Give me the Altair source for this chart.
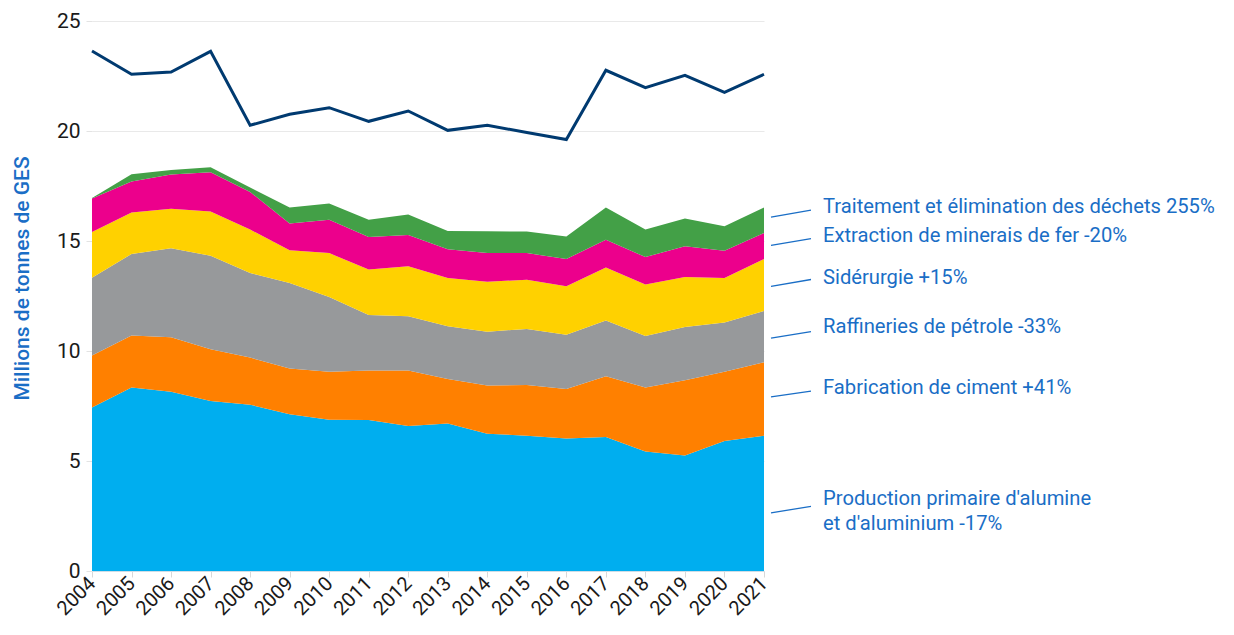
import altair as alt
import pandas as pd

years = list(range(2004, 2022))

sectors = [
    "Production primaire d'alumine et d'aluminium",
    "Fabrication de ciment",
    "Raffineries de pétrole",
    "Sidérurgie",
    "Extraction de minerais de fer",
    "Traitement et élimination des déchets",
]
colors = ["#00aeef", "#ff8000", "#97999b", "#ffd100", "#ec008c", "#43a047"]

aluminium = [7.43, 8.34, 8.15, 7.73, 7.56, 7.12, 6.88, 6.86, 6.59, 6.70, 6.24, 6.15, 6.02, 6.09, 5.43, 5.25, 5.91, 6.15]
ciment = [2.37, 2.36, 2.47, 2.35, 2.14, 2.09, 2.18, 2.25, 2.52, 2.03, 2.19, 2.30, 2.25, 2.76, 2.91, 3.42, 3.15, 3.34]
raffineries = [3.53, 3.71, 4.05, 4.25, 3.85, 3.88, 3.39, 2.53, 2.47, 2.39, 2.45, 2.55, 2.47, 2.54, 2.34, 2.42, 2.23, 2.33]
siderurgie = [2.08, 1.88, 1.80, 2.01, 1.97, 1.49, 2.00, 2.06, 2.27, 2.20, 2.27, 2.24, 2.20, 2.40, 2.34, 2.27, 2.03, 2.36]
fer = [1.52, 1.42, 1.55, 1.78, 1.71, 1.21, 1.52, 1.48, 1.42, 1.30, 1.30, 1.21, 1.24, 1.27, 1.25, 1.40, 1.24, 1.18]
dechets = [0.02, 0.32, 0.21, 0.23, 0.20, 0.73, 0.73, 0.79, 0.93, 0.83, 0.99, 0.98, 1.03, 1.46, 1.25, 1.26, 1.11, 1.16]

total = [23.64, 22.58, 22.68, 23.62, 20.26, 20.76, 21.06, 20.44, 20.91, 20.03, 20.26, 19.93, 19.61, 22.76, 21.97, 22.53, 21.76, 22.58]

label_texts = [
    "Traitement et élimination des déchets 255%",
    "Extraction de minerais de fer -20%",
    "Sidérurgie +15%",
    "Raffineries de pétrole -33%",
    "Fabrication de ciment +41%",
    "Production primaire d'alumine",
    "et d'aluminium -17%",
]
label_y = [16.55, 15.21, 13.34, 11.09, 8.34, 3.29, 2.15]

leader_y_left = [16.09, 14.80, 12.94, 10.59, 7.91, 2.64]
leader_y_right = [16.40, 15.11, 13.25, 10.88, 8.18, 2.94]

series = [aluminium, ciment, raffineries, siderurgie, fer, dechets]
rows = []
for i, (name, vals) in enumerate(zip(sectors, series)):
    for y, v in zip(years, vals):
        rows.append({"year": str(y), "sector": name, "value": v, "ord": i})
area_df = pd.DataFrame(rows)
line_df = pd.DataFrame({"year": [str(y) for y in years], "total": total})
lab_df = pd.DataFrame({"text": label_texts, "y": label_y})
lead_df = pd.DataFrame({"y1": leader_y_left, "y2": leader_y_right})

FONT = "Roboto"
BLUE_TXT = "#1a6ec6"

x_scale = alt.Scale(type="point", padding=0, domain=[str(y) for y in years])
x_enc = alt.X(
    "year:O",
    scale=x_scale,
    axis=alt.Axis(
        title=None, labelAngle=-45, labelAlign="right",
        labelBaseline="middle", labelFontSize=20, labelColor="#1a1a1a", labelFont=FONT,
        grid=False, tickColor="#d8d8d8", tickSize=6, domainColor="#cfdde6", labelPadding=3,
        labelOverlap=False,
    ),
)
y_scale = alt.Scale(domain=[0, 25], nice=False)
y_axis = alt.Axis(
    values=[0, 5, 10, 15, 20, 25], title="Millions de tonnes de GES", titleFont=FONT,
    titleFontSize=21, titleFontWeight=500, titleColor=BLUE_TXT, titleX=-60, titleY=257,
    titleAngle=-90, titleAlign="center", titleBaseline="bottom",
    labelFontSize=21, labelColor="#1a1a1a", labelFont=FONT, domain=False,
    gridColor="#e9e9e9", tickColor="#e3e3e3", tickSize=6, labelPadding=6,
)

areas = alt.Chart(area_df).mark_area(opacity=1).encode(
    x=x_enc,
    y=alt.Y("value:Q", stack="zero", scale=y_scale, axis=y_axis),
    color=alt.Color("sector:N", scale=alt.Scale(domain=sectors, range=colors), legend=None),
    order=alt.Order("ord:Q", sort="ascending"),
)

line = alt.Chart(line_df).mark_line(color="#003a70", strokeWidth=3).encode(
    x=alt.X("year:O", scale=x_scale), y="total:Q"
)

labels = alt.Chart(lab_df).mark_text(
    align="left", baseline="middle", font=FONT, fontSize=20.2, color=BLUE_TXT
).encode(x=alt.value(731), y="y:Q", text="text:N")

leaders = alt.Chart(lead_df).mark_rule(color=BLUE_TXT, strokeWidth=1.3).encode(
    x=alt.value(679), x2=alt.value(719), y="y1:Q", y2="y2:Q"
)

chart = alt.layer(areas, line, leaders, labels).properties(
    width=672, height=550,
    background="white",
    autosize=alt.AutoSizeParams(type="none"),
    padding={"left": 84, "top": 13, "right": 462, "bottom": 56},
).configure_view(stroke=None)

chart.save("out.html", embed_options={"renderer": "svg", "actions": False})
